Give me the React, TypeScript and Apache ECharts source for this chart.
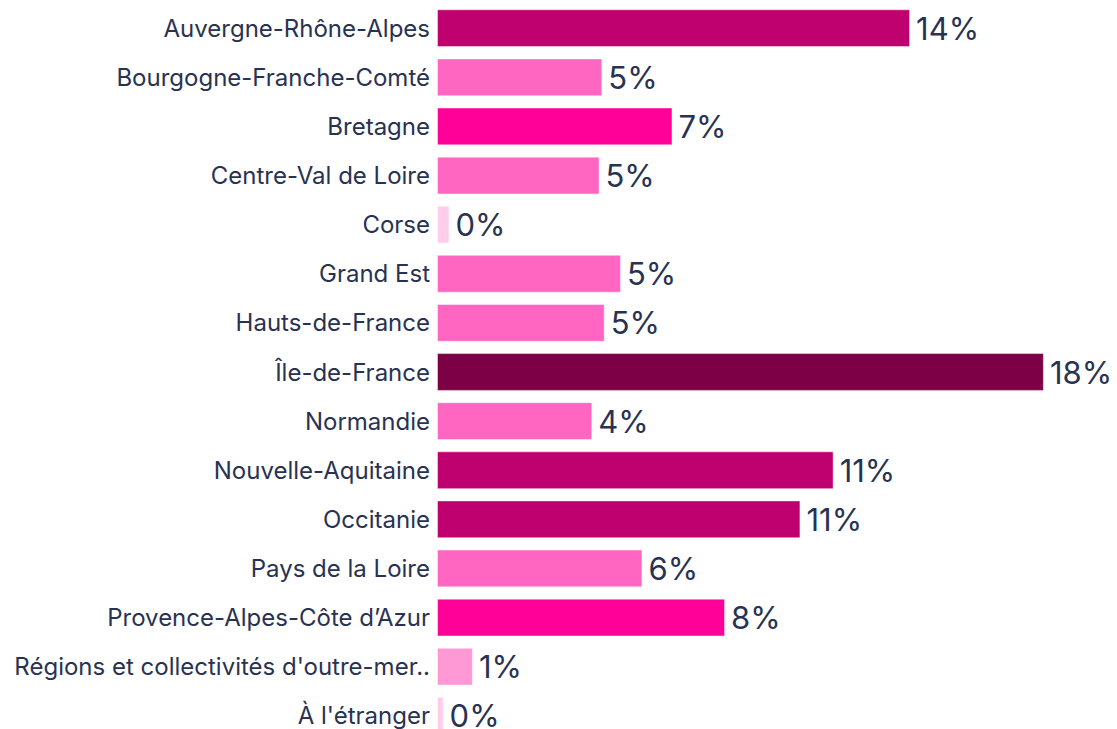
import React, { useEffect, useRef } from "react";
import * as echarts from "echarts";

const categories = [
  "Auvergne-Rhône-Alpes",
  "Bourgogne-Franche-Comté",
  "Bretagne",
  "Centre-Val de Loire",
  "Corse",
  "Grand Est",
  "Hauts-de-France",
  "Île-de-France",
  "Normandie",
  "Nouvelle-Aquitaine",
  "Occitanie",
  "Pays de la Loire",
  "Provence-Alpes-Côte d’Azur",
  "Régions et collectivités d'outre-mer..",
  "À l'étranger",
];

const shares = [13.68, 4.78, 6.81, 4.7, 0.36, 5.32, 4.85, 17.55, 4.49, 11.47, 10.51, 5.94, 8.33, 1.04, 0.19];

const colorSteps = [
  { min: 15, color: "#7d0047" },
  { min: 10, color: "#bf006f" },
  { min: 6.5, color: "#ff0099" },
  { min: 2, color: "#ff66c2" },
  { min: 0.5, color: "#ff99d6" },
  { min: -1, color: "#ffcdea" },
];

const colorFor = (v: number) => colorSteps.find((s) => v >= s.min)!.color;

const TEXT = "#283252";
const FONT = "Inter, 'Noto Sans', sans-serif";

export default function App() {
  const ref = useRef<HTMLDivElement>(null);
  useEffect(() => {
    if (!ref.current) return;
    const chart = echarts.init(ref.current, undefined, { renderer: "svg" });
    const pxPerUnit = 34.58;
    const maxX = 18;
    chart.setOption({
      animation: false,
      backgroundColor: "#ffffff",
      textStyle: { fontFamily: FONT },
      grid: { left: 437, top: 3.65, height: 736.7, width: maxX * pxPerUnit, containLabel: false },
      xAxis: {
        type: "value",
        min: 0,
        max: maxX,
        show: false,
        splitLine: { show: false },
      },
      yAxis: {
        type: "category",
        data: categories,
        inverse: true,
        axisLine: { show: false },
        axisTick: { show: false },
        splitLine: { show: false },
        axisLabel: {
          color: TEXT,
          fontSize: 24,
          fontFamily: FONT,
          margin: 7,
        },
      },
      series: [
        {
          type: "bar",
          barCategoryGap: "23%",
          data: shares.map((v) => ({
            value: v,
            itemStyle: {
              color: colorFor(v),
              borderColor: "rgba(255,255,255,0.45)",
              borderWidth: 1,
            },
          })),
          label: {
            show: true,
            position: "right",
            distance: 6,
            color: TEXT,
            fontSize: 31,
            fontFamily: FONT,
            formatter: (p: any) => Math.round(p.value) + "%",
          },
        },
      ],
    });
    return () => chart.dispose();
  }, []);
  return (
    <div
      ref={ref}
      style={{ position: "fixed", left: 0, top: 0, width: 1117, height: 745, background: "#fff" }}
    />
  );
}
